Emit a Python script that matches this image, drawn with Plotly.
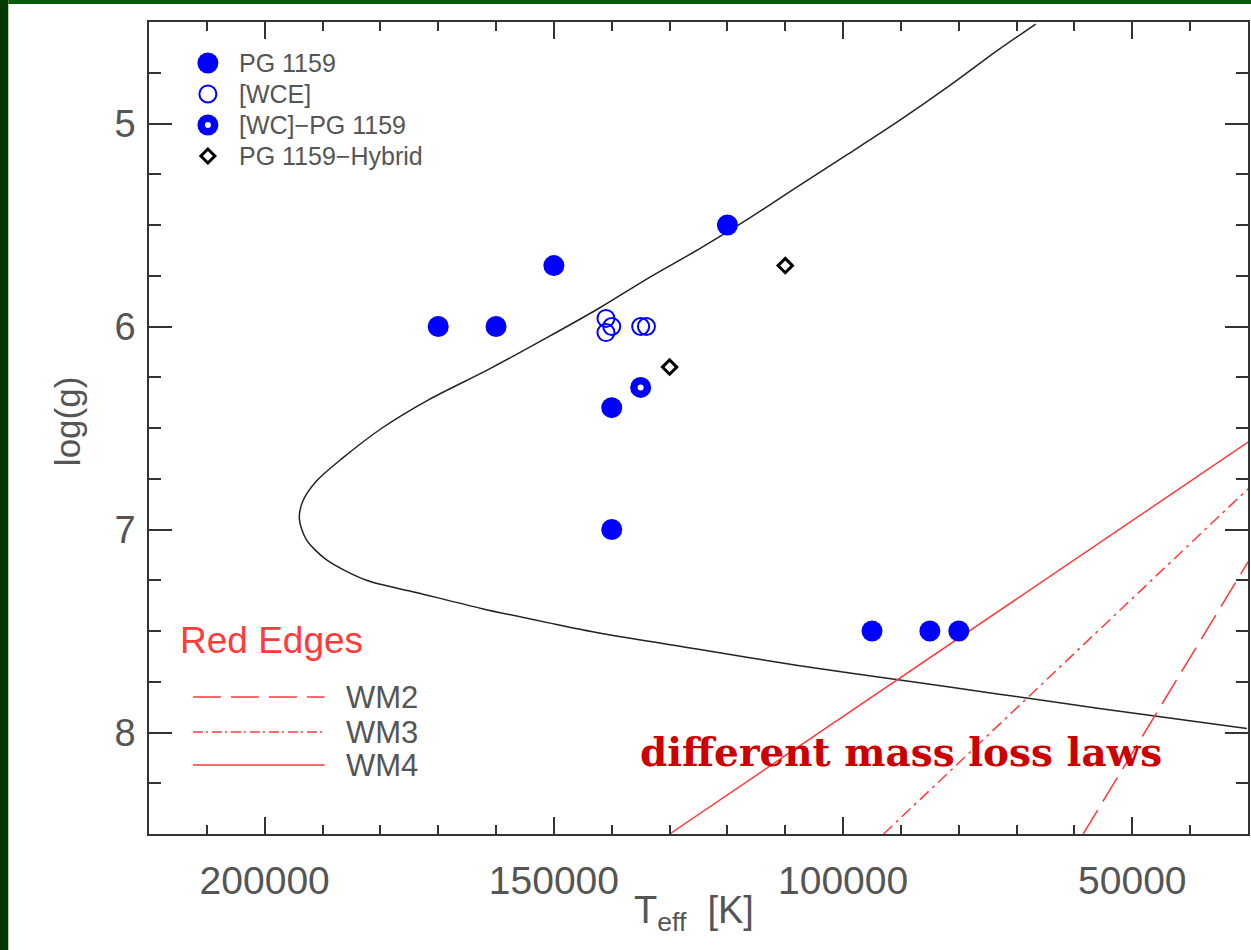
import plotly.graph_objects as go

# ---------------- data ----------------
pg1159_teff = [170000, 160000, 150000, 120000, 140000, 140000, 95000, 85000, 80000]
pg1159_logg = [6.0, 6.0, 5.7, 5.5, 6.4, 7.0, 7.5, 7.5, 7.5]

wce_teff = [141000, 141000, 140000, 135000, 134000]
wce_logg = [5.96, 6.03, 6.0, 6.0, 6.0]

wcpg_teff = [135000]
wcpg_logg = [6.3]

hybrid_teff = [130000, 110000]
hybrid_logg = [6.2, 5.7]

curve_teff = [66700, 73300, 81900, 90500, 99100, 107800, 116400, 125000, 133600,
              142200, 150900, 161200, 171600, 179700, 186600, 191000, 193400, 194000,
              192800, 189300, 182400, 173800, 162400, 150900, 142200, 125000,
              107800, 90500, 73300, 56000, 30200]
curve_logg = [4.51, 4.64, 4.82, 4.99, 5.15, 5.31, 5.47, 5.62, 5.76,
              5.91, 6.05, 6.21, 6.36, 6.50, 6.65, 6.76, 6.86, 6.95,
              7.05, 7.15, 7.25, 7.31, 7.39, 7.46, 7.51, 7.59,
              7.67, 7.74, 7.81, 7.88, 7.98]

wm4_teff = [130000, 30000]
wm4_logg = [8.5, 6.57]
wm3_teff = [93000, 30000]
wm3_logg = [8.5, 6.80]
wm2_teff = [58500, 30000]
wm2_logg = [8.5, 7.16]

x_tickvals = [200000, 150000, 100000, 50000]
x_ticktext = ["200000", "150000", "100000", "50000"]
y_tickvals = [5, 6, 7, 8]
y_ticktext = ["5", "6", "7", "8"]

legend_labels = ["PG 1159", "[WCE]", "[WC]\u2212PG 1159", "PG 1159\u2212Hybrid"]
edge_labels = ["WM2", "WM3", "WM4"]

# ---------------- layout geometry ----------------
W, H = 1251, 950
L, R, T, B = 149, 1, 22, 116
PW, PH = W - L - R, H - T - B


def px_x(x):
    return (x - L) / PW


def px_y(y):
    return (T + PH - y) / PH


BLUE = "#0000ff"
RED = "#ff3b3b"
TXT = "#555555"
FONT = "Liberation Sans, Arial, sans-serif"

fig = go.Figure()

fig.add_trace(go.Scatter(x=curve_teff, y=curve_logg, mode="lines",
                         line=dict(color="#222222", width=1.5, shape="spline", smoothing=0.8),
                         showlegend=False, hoverinfo="skip"))
fig.add_trace(go.Scatter(x=wm4_teff, y=wm4_logg, mode="lines",
                         line=dict(color=RED, width=1.5), showlegend=False))
fig.add_trace(go.Scatter(x=wm3_teff, y=wm3_logg, mode="lines",
                         line=dict(color=RED, width=1.5, dash="12px,5px,3px,5px"), showlegend=False))
fig.add_trace(go.Scatter(x=wm2_teff, y=wm2_logg, mode="lines",
                         line=dict(color=RED, width=1.5, dash="28px,10px"), showlegend=False))

fig.add_trace(go.Scatter(x=pg1159_teff, y=pg1159_logg, mode="markers",
                         marker=dict(symbol="circle", size=21, color=BLUE, line=dict(width=0)),
                         showlegend=False))
fig.add_trace(go.Scatter(x=wce_teff, y=wce_logg, mode="markers",
                         marker=dict(symbol="circle-open", size=17, color=BLUE, line=dict(width=2, color=BLUE)),
                         showlegend=False))
fig.add_trace(go.Scatter(x=wcpg_teff, y=wcpg_logg, mode="markers",
                         marker=dict(symbol="circle", size=21, color=BLUE, line=dict(width=0)),
                         showlegend=False))
fig.add_trace(go.Scatter(x=wcpg_teff, y=wcpg_logg, mode="markers",
                         marker=dict(symbol="circle", size=6, color="white", line=dict(width=0)),
                         showlegend=False))
fig.add_trace(go.Scatter(x=hybrid_teff, y=hybrid_logg, mode="markers",
                         marker=dict(symbol="diamond-open", size=11, color="black", line=dict(width=3, color="black")),
                         showlegend=False))

shapes = []
# green border strips
shapes.append(dict(type="rect", xref="paper", yref="paper", layer="above",
                   x0=px_x(-5), x1=px_x(8), y0=px_y(960), y1=px_y(-5),
                   fillcolor="#023a02", line=dict(width=0)))
shapes.append(dict(type="rect", xref="paper", yref="paper", layer="above",
                   x0=px_x(8), x1=px_x(1260), y0=px_y(4), y1=px_y(-5),
                   fillcolor="#0a5a0a", line=dict(width=0)))

# custom legend (upper left)
leg_x = px_x(208)
leg_rows = [63, 94, 125, 156]


def circ(yrow, r, fill, lc, lw):
    return dict(type="circle", xref="paper", yref="paper", xsizemode="pixel", ysizemode="pixel",
                xanchor=leg_x, yanchor=px_y(yrow), x0=-r, x1=r, y0=-r, y1=r,
                fillcolor=fill, line=dict(color=lc, width=lw), layer="above")


shapes.append(circ(leg_rows[0], 10.5, BLUE, BLUE, 0))
shapes.append(circ(leg_rows[1], 8.5, "rgba(0,0,0,0)", BLUE, 2))
shapes.append(circ(leg_rows[2], 10.5, BLUE, BLUE, 0))
shapes.append(circ(leg_rows[2], 3, "white", "white", 0))
shapes.append(dict(type="path", xref="paper", yref="paper", xsizemode="pixel", ysizemode="pixel",
                   xanchor=leg_x, yanchor=px_y(leg_rows[3]),
                   path="M0,-7 L7,0 L0,7 L-7,0 Z", line=dict(color="black", width=3), layer="above"))

annotations = []
for lab, yr in zip(legend_labels, leg_rows):
    annotations.append(dict(text=lab, xref="paper", yref="paper", x=px_x(237), y=px_y(yr),
                            xanchor="left", yanchor="middle", showarrow=False,
                            font=dict(family=FONT, size=25, color=TXT)))

# red edges legend
annotations.append(dict(text="Red Edges", xref="paper", yref="paper", x=px_x(178), y=px_y(640),
                        xanchor="left", yanchor="middle", showarrow=False,
                        font=dict(family=FONT, size=37, color=RED)))
edge_rows = [697, 732, 765]
edge_dash = ["28px,10px", "10px,3px,2px,4px", "solid"]
for lab, yr, d in zip(edge_labels, edge_rows, edge_dash):
    shapes.append(dict(type="line", xref="paper", yref="paper", x0=px_x(193), x1=px_x(325),
                       y0=px_y(yr), y1=px_y(yr), line=dict(color=RED, width=1.5, dash=d), layer="above"))
    annotations.append(dict(text=lab, xref="paper", yref="paper", x=px_x(344), y=px_y(yr),
                            xanchor="left", yanchor="middle", showarrow=False,
                            font=dict(family=FONT, size=31, color=TXT)))

annotations.append(dict(text="<b>different mass loss laws</b>", xref="paper", yref="paper",
                        x=px_x(902), y=px_y(752), xanchor="center", yanchor="middle", showarrow=False,
                        font=dict(family="DejaVu Serif, serif", size=39, color="#cc0000")))

# axis titles
annotations.append(dict(text="log(g)", xref="paper", yref="paper", x=px_x(68), y=px_y(422),
                        xanchor="center", yanchor="middle", textangle=-90, showarrow=False,
                        font=dict(family=FONT, size=35, color=TXT)))
annotations.append(dict(text="T<sub>eff</sub>  [K]", xref="paper", yref="paper", x=px_x(695), y=px_y(913),
                        xanchor="center", yanchor="middle", showarrow=False,
                        font=dict(family=FONT, size=38, color=TXT)))

axis_common = dict(showgrid=False, zeroline=False, showline=True, linecolor="#333333", linewidth=1.5,
                   mirror="allticks", ticks="inside", tickcolor="#333333", tickwidth=1.5)

fig.update_layout(
    width=W, height=H,
    margin=dict(l=L, r=R, t=T, b=B, pad=0),
    paper_bgcolor="white", plot_bgcolor="white",
    showlegend=False,
    shapes=shapes, annotations=annotations,
    xaxis=dict(range=[220000, 30000], tickvals=x_tickvals, ticktext=x_ticktext, ticklen=17,
               ticklabelstandoff=11, tickfont=dict(family=FONT, size=39, color=TXT),
               minor=dict(dtick=10000, tick0=0, ticklen=9, ticks="inside", tickcolor="#333333", tickwidth=1.5),
               **axis_common),
    yaxis=dict(range=[8.5, 4.5], tickvals=y_tickvals, ticktext=y_ticktext, ticklen=23,
               ticklabelstandoff=4, tickfont=dict(family=FONT, size=38, color=TXT),
               minor=dict(dtick=0.25, tick0=0, ticklen=12, ticks="inside", tickcolor="#333333", tickwidth=1.5),
               **axis_common),
)

fig.write_html("out.html",
               config={"displayModeBar": False},
               post_script="document.body.style.margin='0px';document.body.style.overflow='hidden';")
